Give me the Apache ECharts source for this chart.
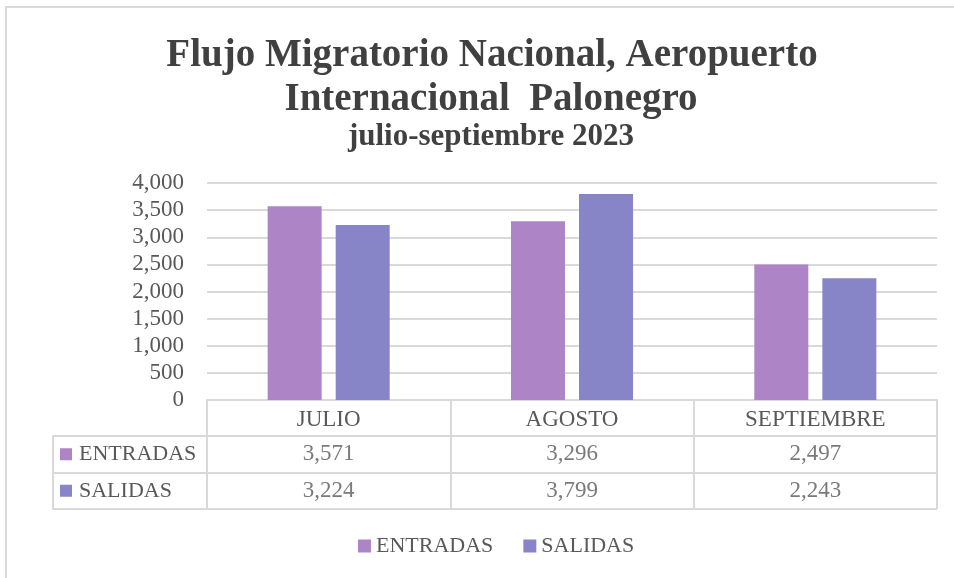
<!DOCTYPE html>
<html>
<head>
<meta charset="utf-8">
<script src="https://cdn.jsdelivr.net/npm/echarts@6/dist/echarts.min.js"></script>
<style>html,body{margin:0;padding:0;background:#fff}#c{width:954px;height:578px}</style>
</head>
<body>
<div id="c"></div>
<script>
const titleLine1 = 'Flujo Migratorio Nacional, Aeropuerto';
const titleLine2 = 'Internacional  Palonegro';
const subtitle = 'julio-septiembre 2023';
const months = ['JULIO', 'AGOSTO', 'SEPTIEMBRE'];
const seriesNames = ['ENTRADAS', 'SALIDAS'];
const entradas = [3571, 3296, 2497];
const salidas = [3224, 3799, 2243];
const yTicks = [0, 500, 1000, 1500, 2000, 2500, 3000, 3500, 4000];

const colors = ['#AD84C6', '#8784C7'];
const FONT = 'Liberation Serif';
const TXT = '#595959';
const LINE = '#d9d9d9';
const fmt = v => v.toLocaleString('en-US');

const seriesValues = [entradas, salidas];
const tableData = [];
seriesValues.forEach((vals, r) => {
  vals.forEach((v, i) => tableData.push([months[i], seriesNames[r], v]));
});

const chart = echarts.init(document.getElementById('c'), null, {renderer: 'canvas'});
chart.setOption({
  animation: false,
  backgroundColor: '#fff',
  graphic: [{
    type: 'rect', shape: {x: 6, y: 7, width: 2000, height: 2000},
    style: {fill: 'none', stroke: LINE, lineWidth: 2}, silent: true
  }],
  title: [
    {text: titleLine1, left: 487, top: 31, textAlign: 'center',
     textStyle: {fontFamily: FONT, fontWeight: 'bold', fontSize: 39, color: '#404040'}},
    {text: titleLine2, left: 486, top: 75, textAlign: 'center',
     textStyle: {fontFamily: FONT, fontWeight: 'bold', fontSize: 39, color: '#404040'}},
    {text: subtitle, left: 486, top: 116, textAlign: 'center',
     textStyle: {fontFamily: FONT, fontWeight: 'bold', fontSize: 31, color: '#404040'}}
  ],
  legend: {
    data: seriesNames, left: 353, top: 530, itemWidth: 13, itemHeight: 13, itemGap: 30,
    icon: 'rect',
    textStyle: {fontFamily: FONT, fontSize: 22, color: TXT}
  },
  grid: [
    {left: 207, right: 17, top: 183, bottom: 178, containLabel: false},
    {left: 207, right: 17, top: 436, bottom: 69, containLabel: false}
  ],
  xAxis: [
    {type: 'category', gridIndex: 0, data: months, boundaryGap: true,
     axisLine: {show: true, lineStyle: {color: LINE, width: 2}},
     axisTick: {show: true, alignWithLabel: false, interval: 0, length: 109, lineStyle: {color: LINE, width: 2}},
     axisLabel: {interval: 0, margin: 8, fontFamily: FONT, fontSize: 23, color: TXT}},
    {type: 'category', gridIndex: 1, data: months, show: false}
  ],
  yAxis: [
    {type: 'value', gridIndex: 0, min: yTicks[0], max: yTicks[yTicks.length - 1], interval: yTicks[1] - yTicks[0],
     axisLine: {show: false}, axisTick: {show: false},
     splitLine: {lineStyle: {color: LINE, width: 2}},
     axisLabel: {margin: 23, fontFamily: FONT, fontSize: 23, color: TXT, formatter: v => fmt(v)}},
    {type: 'category', gridIndex: 1, data: seriesNames, inverse: true, boundaryGap: true,
     axisLine: {show: false},
     axisTick: {show: true, alignWithLabel: false, interval: 0, length: 154, lineStyle: {color: LINE, width: 2}},
     splitLine: {show: true, interval: 0, lineStyle: {color: LINE, width: 2}},
     axisLabel: {interval: 0, margin: 147, align: 'left', fontFamily: FONT, fontSize: 22, color: TXT,
       formatter: (v, i) => '{s' + i + '|}{g|}' + v,
       rich: {
         s0: {width: 12, height: 12, backgroundColor: colors[0]},
         s1: {width: 12, height: 12, backgroundColor: colors[1]},
         g: {width: 7}
       }}},
    {type: 'category', gridIndex: 1, data: seriesNames, inverse: true, position: 'left', offset: 154,
     axisLine: {show: true, lineStyle: {color: LINE, width: 2}},
     axisTick: {show: false}, axisLabel: {show: false}, splitLine: {show: false}}
  ],
  series: [
    {name: seriesNames[0], type: 'bar', xAxisIndex: 0, yAxisIndex: 0, data: entradas,
     barWidth: 54, barGap: '26%', itemStyle: {color: colors[0]}},
    {name: seriesNames[1], type: 'bar', xAxisIndex: 0, yAxisIndex: 0, data: salidas,
     barWidth: 54, barGap: '26%', itemStyle: {color: colors[1]}},
    {type: 'scatter', xAxisIndex: 1, yAxisIndex: 1, data: tableData, symbolSize: 1,
     itemStyle: {color: 'rgba(0,0,0,0)'}, silent: true,
     label: {show: true, position: 'inside', fontFamily: FONT, fontSize: 23, color: TXT,
       formatter: p => fmt(p.value[2])}}
  ]
});
</script>
</body>
</html>
